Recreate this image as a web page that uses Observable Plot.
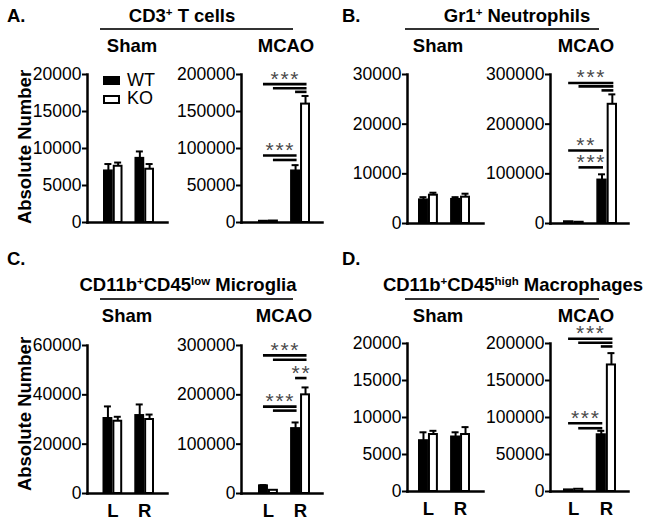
<!DOCTYPE html>
<html><head><meta charset="utf-8">
<script src="https://cdn.jsdelivr.net/npm/d3@7"></script>
<script src="https://cdn.jsdelivr.net/npm/@observablehq/plot@0.6"></script>
<style>
body{margin:0;background:#fff;}
#root{position:relative;width:652px;height:521px;overflow:hidden;font-family:"Liberation Sans",Arial,sans-serif;color:#000;background:#fff;}
.t{position:absolute;line-height:0.85;white-space:nowrap;}
.w{position:absolute;}
sup{font-size:0.62em;vertical-align:0;position:relative;top:-0.5em;}
</style></head><body><div id="root"></div>
<script>
// ---------- data ----------
const groups = ["L", "R"];
const genotypes = ["WT", "KO"];
const panelLetters = ["A.", "B.", "C.", "D."];
const panelTitles = ["CD3<sup>+</sup> T cells", "Gr1<sup>+</sup> Neutrophils",
  "CD11b<sup>+</sup>CD45<sup>low</sup> Microglia", "CD11b<sup>+</sup>CD45<sup>high</sup> Macrophages"];
const conditions = ["Sham", "MCAO"];
const yLabel = "Absolute Number";

// [side, genotype, mean, sem]
const cd3Sham = [["L","WT",7000,900],["L","KO",7600,500],["R","WT",8700,900],["R","KO",7200,700]];
const cd3Mcao = [["L","WT",2000,0],["L","KO",2000,0],["R","WT",70000,7500],["R","KO",160000,11000]];
const gr1Sham = [["L","WT",4800,500],["L","KO",5700,500],["R","WT",4900,400],["R","KO",5300,700]];
const gr1Mcao = [["L","WT",4000,0],["L","KO",2500,0],["R","WT",88000,11000],["R","KO",240000,20000]];
const micSham = [["L","WT",30500,4800],["L","KO",29300,1800],["R","WT",31700,4400],["R","KO",30000,2000]];
const micMcao = [["L","WT",16000,1000],["L","KO",6500,0],["R","WT",132000,12000],["R","KO",200000,15000]];
const macSham = [["L","WT",6900,1100],["L","KO",7700,500],["R","WT",7400,600],["R","KO",7700,1000]];
const macMcao = [["L","WT",2500,0],["L","KO",3000,0],["R","WT",77000,5000],["R","KO",171000,16000]];

// significance brackets: [fromSide, fromGeno, toSide, toGeno, yValue]
const cd3Brackets = [["L","WT","R","KO",187000],["L","KO","R","KO",181500],["R","WT","R","KO",176500],["L","WT","R","WT",90500],["L","KO","R","WT",84500]];
const gr1Brackets = [["L","WT","R","KO",283000],["L","KO","R","KO",276000],["R","WT","R","KO",268000],["L","WT","R","WT",147000],["L","KO","R","WT",113000]];
const micBrackets = [["L","WT","R","KO",280000],["L","KO","R","KO",271000],["R","WT","R","KO",234000],["L","WT","R","WT",176000],["L","KO","R","WT",168000]];
const macBrackets = [["L","WT","R","KO",206500],["L","KO","R","KO",201000],["R","WT","R","KO",196000],["L","WT","R","WT",92300],["L","KO","R","WT",85500]];
// star labels: [fromSide, fromGeno, toSide, toGeno, yValue, text]
const cd3Stars = [["L","WT","R","KO",187000,"***"],["L","WT","R","WT",90500,"***"]];
const gr1Stars = [["L","WT","R","KO",283000,"***"],["L","WT","R","WT",147000,"**"],["L","KO","R","WT",113000,"***"]];
const micStars = [["L","WT","R","KO",280000,"***"],["R","WT","R","KO",234000,"**"],["L","WT","R","WT",176000,"***"]];
const macStars = [["L","WT","R","KO",206500,"***"],["L","WT","R","WT",92300,"***"]];

const ticks20k = [0,5000,10000,15000,20000];
const ticks200k = [0,50000,100000,150000,200000];
const ticks30k = [0,10000,20000,30000];
const ticks300k = [0,100000,200000,300000];
const ticks60k = [0,20000,40000,60000];

// ---------- layout (pixels) ----------
const subplots = [
  {data: cd3Sham, br: [], st: [], ticks: ticks20k, ax: 87, right: 167, top: 74, bottom: 222, b0: 103, b1: 154, showX: false},
  {data: cd3Mcao, br: cd3Brackets, st: cd3Stars, ticks: ticks200k, ax: 241, right: 322, top: 74, bottom: 222, b0: 258, b1: 310, showX: false},
  {data: gr1Sham, br: [], st: [], ticks: ticks30k, ax: 407, right: 483, top: 74, bottom: 223, b0: 418, b1: 470, showX: false},
  {data: gr1Mcao, br: gr1Brackets, st: gr1Stars, ticks: ticks300k, ax: 550, right: 628, top: 74, bottom: 223, b0: 563, b1: 617, showX: false},
  {data: micSham, br: [], st: [], ticks: ticks60k, ax: 87, right: 167, top: 345, bottom: 493, b0: 102.5, b1: 154, showX: true},
  {data: micMcao, br: micBrackets, st: micStars, ticks: ticks300k, ax: 241, right: 322, top: 345, bottom: 493, b0: 258, b1: 310, showX: true},
  {data: macSham, br: [], st: [], ticks: ticks20k, ax: 407, right: 483, top: 343, bottom: 491, b0: 418, b1: 470, showX: true},
  {data: macMcao, br: macBrackets, st: macStars, ticks: ticks200k, ax: 550, right: 628, top: 343, bottom: 491, b0: 563, b1: 616, showX: true}
];

const root = document.getElementById("root");
const FONT = "Liberation Sans, Arial, sans-serif";
const BASE = 0.7715; // baseline offset (em) for line-height 0.85

function addText(html, x, baseline, size, weight, anchor) {
  const d = document.createElement("div");
  d.className = "t";
  d.innerHTML = html;
  d.style.fontSize = size + "px";
  d.style.fontWeight = weight;
  d.style.top = (baseline - BASE * size) + "px";
  d.style.left = x + "px";
  if (anchor === "middle") d.style.transform = "translateX(-50%)";
  root.appendChild(d);
  return d;
}
function addBox(left, top, w, h, css) {
  const d = document.createElement("div");
  d.className = "w";
  Object.assign(d.style, {left: left + "px", top: top + "px", width: w + "px", height: h + "px", boxSizing: "border-box"}, css);
  root.appendChild(d);
}

const mL = 70, mR = 8, mT = 25, mB = 28, PI = 0.38;

function makePlot(cfg) {
  const rows = cfg.data.map(([group, geno, mean, err]) => ({group, geno, mean, err}));
  const W = cfg.right - cfg.ax, H = cfg.bottom - cfg.top;
  const range = [mL + cfg.b0 - cfg.ax, mL + cfg.b1 - cfg.ax];
  const xs = d3.scaleBand().domain(groups).range(range).paddingInner(PI).paddingOuter(0);
  const bw = xs.bandwidth(), q = bw / 4, half = bw / 2;
  const center = g => (g === "WT" ? q : 3 * q);
  const wt = rows.filter(d => d.geno === "WT"), ko = rows.filter(d => d.geno === "KO");
  const marks = [];
  marks.push(Plot.axisY({ticks: cfg.ticks, tickFormat: "d", tickSize: 5, tickPadding: 1, strokeWidth: 2, fontSize: 17.5, label: null}));
  if (cfg.showX) marks.push(Plot.axisX({tickSize: 0, tickPadding: 10, fontWeight: "bold", fontSize: 18.5, label: null}));
  marks.push(Plot.barY(wt, {x: "group", y: "mean", fill: "black", stroke: "black", strokeWidth: 1.5, insetLeft: 0.75, insetRight: half + 0.75}));
  marks.push(Plot.barY(ko, {x: "group", y: "mean", fill: "white", stroke: "black", strokeWidth: 2, insetLeft: half + 1, insetRight: 1}));
  for (const [set, g] of [[wt, "WT"], [ko, "KO"]]) {
    const e = set.filter(d => d.err > 0);
    const c = center(g);
    marks.push(Plot.ruleX(e, {x: "group", y1: "mean", y2: d => d.mean + d.err, dx: c - half, strokeWidth: 2}));
    marks.push(Plot.tickY(e, {x: "group", y: d => d.mean + d.err, insetLeft: c - 3.5, insetRight: bw - c - 3.5, strokeWidth: 2}));
  }
  // brackets grouped by genotype pair
  const br = cfg.br.map(([fg, fgeno, tg, tgeno, y]) => ({fg, fgeno, tg, tgeno, y}));
  for (const a of genotypes) for (const b of genotypes) {
    const sub = br.filter(d => d.fgeno === a && d.tgeno === b);
    if (!sub.length) continue;
    marks.push(Plot.ruleY(sub, {x1: "fg", x2: "tg", y: "y", insetLeft: center(a), insetRight: bw - center(b) - 1.5, stroke: "black", strokeWidth: 2.6}));
  }
  for (const [fg, fgeno, tg, tgeno, y, label] of cfg.st) {
    const x1 = xs(fg) + center(fgeno), x2 = xs(tg) + center(tgeno);
    const dx = (x1 + x2) / 2 - (xs(tg) + half);
    marks.push(Plot.text([{tg, y, label}], {x: "tg", y: "y", text: d => d.label.split("").join("\u200A"), dx, dy: 1.5, lineAnchor: "bottom", fontSize: 21, fill: "#4a4a4a"}));
  }
  marks.push(Plot.frame({anchor: "left", strokeWidth: 2.5}));
  marks.push(Plot.frame({anchor: "bottom", strokeWidth: 2.5}));
  const plot = Plot.plot({
    width: mL + W + mR, height: mT + H + mB,
    marginLeft: mL, marginRight: mR, marginTop: mT, marginBottom: mB,
    style: {background: "transparent", overflow: "visible", fontFamily: FONT, fontSize: "17.5px", color: "black"},
    x: {type: "band", domain: groups, range, paddingInner: PI, paddingOuter: 0, round: false, label: null, ...(cfg.showX ? {} : {axis: null})},
    y: {domain: [0, cfg.ticks[cfg.ticks.length - 1]], label: null},
    marks
  });
  const wrap = document.createElement("div");
  wrap.className = "w";
  wrap.style.left = (cfg.ax - mL) + "px";
  wrap.style.top = (cfg.top - mT) + "px";
  wrap.appendChild(plot);
  root.appendChild(wrap);
}

// ---------- text layout ----------
const letterPos = [[7, 22], [342, 22], [7, 265], [342, 265]];
const titlePos = [[182, 22], [517, 22], [188, 291], [513, 291]];
const rulePos = [[100, 293, 28], [405, 599, 28], [100, 293, 298], [405, 599, 298]];
const condPos = [[[132, 52], [286, 52]], [[438, 52], [586, 52]], [[127, 322], [284, 322]], [[438, 322], [586, 322]]];

panelLetters.forEach((l, i) => addText(l, letterPos[i][0], letterPos[i][1], 18.5, "bold", "start"));
panelTitles.forEach((t, i) => addText(t, titlePos[i][0], titlePos[i][1], 18.5, "bold", "middle"));
rulePos.forEach(([a, b, y]) => addBox(a, y, b - a, 2, {background: "#333"}));
condPos.forEach(p => p.forEach(([x, y], j) => addText(conditions[j], x, y, 18.5, "bold", "middle")));

subplots.forEach(makePlot);

// y-axis titles
for (const cy of [147, 414]) {
  const d = addText(yLabel, 0, 0, 18.5, "bold", "start");
  d.style.left = "25px"; d.style.top = cy + "px";
  d.style.transform = "translate(-50%,-50%) rotate(-90deg)";
}
// legend
addBox(103, 76, 17, 9, {background: "black"});
addText(genotypes[0], 127, 87, 18, "normal", "start");
addBox(103, 95, 17, 9, {background: "white", border: "2px solid black"});
addText(genotypes[1], 127, 105, 18, "normal", "start");
</script></body></html>
